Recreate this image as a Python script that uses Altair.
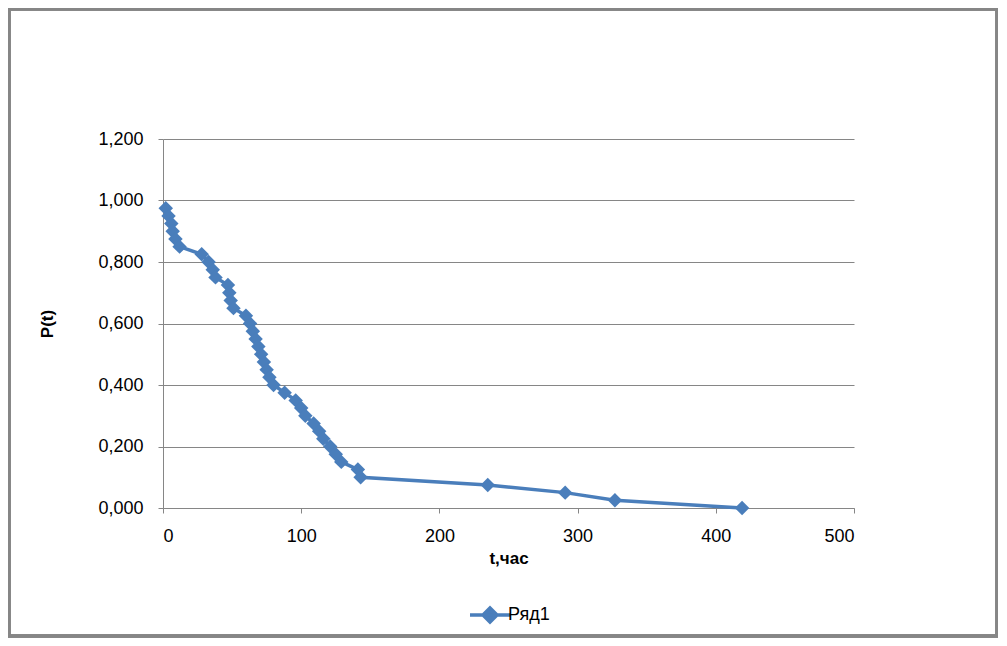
import altair as alt
import pandas as pd

t_hours = [2, 4, 6, 7, 9, 12, 28, 33, 36, 38, 47, 48, 49, 51, 60, 63, 65, 67, 69, 71,
           73, 75, 77, 80, 88, 96, 100, 103, 109, 113, 116, 121, 125, 129, 141, 143,
           235, 291, 327, 419]
p_values = [0.975, 0.95, 0.925, 0.9, 0.875, 0.85, 0.825, 0.8, 0.775, 0.75, 0.725, 0.7,
            0.675, 0.65, 0.625, 0.6, 0.575, 0.55, 0.525, 0.5, 0.475, 0.45, 0.425, 0.4,
            0.375, 0.35, 0.325, 0.3, 0.275, 0.25, 0.225, 0.2, 0.175, 0.15, 0.125, 0.1,
            0.075, 0.05, 0.025, 0.0]
series_name = "Ряд1"

df = pd.DataFrame({"t": t_hours, "P": p_values, "s": [series_name] * len(t_hours)})

BLUE = "#4A7EBB"
FONT = "Liberation Sans"
W, H = 691, 369
PL, PT = 155, 131

x = alt.X("t:Q", scale=alt.Scale(domain=[0, 500], nice=False),
          axis=alt.Axis(values=[0, 100, 200, 300, 400, 500], title="t,час", grid=False,
                        titleFontWeight="bold", titleFontSize=17, titlePadding=5,
                        labelFontSize=18, domainColor="#868686", tickColor="#868686",
                        tickSize=5, labelPadding=14))
y = alt.Y("P:Q", scale=alt.Scale(domain=[0, 1.2], nice=False),
          axis=alt.Axis(values=[0, 0.2, 0.4, 0.6, 0.8, 1.0, 1.2], title="P(t)",
                        labelExpr="replace(format(datum.value, '.3f'), '.', ',')",
                        titleFontWeight="bold", titleFontSize=17, titlePadding=41,
                        labelFontSize=18, domainColor="#868686", tickColor="#868686",
                        tickSize=5, gridColor="#868686", labelPadding=15))

color = alt.Color("s:N", scale=alt.Scale(range=[BLUE]),
                  legend=alt.Legend(title=None, orient="none", legendX=315, legendY=464,
                                    symbolType="M-2,0H2M0,-0.7L0.7,0L0,0.7L-0.7,0Z",
                                    symbolSize=400, symbolStrokeWidth=3.5,
                                    symbolFillColor=BLUE, symbolStrokeColor=BLUE,
                                    labelFontSize=18, labelFont=FONT, labelOffset=6,
                                    symbolOffset=0))

line = alt.Chart(df).mark_line(strokeWidth=3.5).encode(x=x, y=y, color=color)
pts = alt.Chart(df).mark_point(shape="diamond", filled=True, size=210, opacity=1).encode(
    x=x, y=y, color=alt.Color("s:N", scale=alt.Scale(range=[BLUE]), legend=None))

border = alt.Chart(df).mark_rect(fill=None, stroke="#868686", strokeWidth=2.5).encode(
    x=alt.value(-PL + 1), x2=alt.value(-PL + 989),
    y=alt.value(-PT + 1), y2=alt.value(-PT + 628))

chart = alt.layer(line, pts, border).properties(
    width=W, height=H,
    autosize=alt.AutoSizeParams(type="none"),
    padding={"left": PL, "top": PT, "right": 990 - PL - W, "bottom": 630 - PT - H},
).configure_view(stroke=None).configure_axis(labelFont=FONT, titleFont=FONT,
                                             labelColor="#000", titleColor="#000")

chart.save("out.html", embed_options={"renderer": "svg", "actions": False})
